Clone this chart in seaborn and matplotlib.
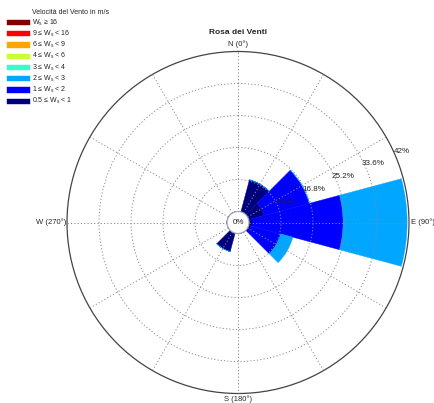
import numpy as np
import matplotlib
matplotlib.use("Agg")
import matplotlib.pyplot as plt
from matplotlib.patches import Rectangle
import seaborn as sns

# Wind directions (degrees from North, clockwise) and frequency (%) per speed class
directions = [0, 30, 60, 90, 120, 150, 180, 210, 240, 270, 300, 330]
freq_05_1 = [0, 8.7, 4.2, 0.8, 0.6, 0, 0, 5.0, 0, 0, 0, 0]
freq_1_2 = [0, 0, 12.3, 23.9, 8.1, 0, 0, 0, 0, 0, 0, 0]
freq_2_3 = [0, 0, 0, 16.8, 3.3, 0, 0, 0, 0, 0, 0, 0]

# Speed classes shown in the legend (top to bottom)
class_labels = [
    "W$_{\\mathregular{s}}$ \u2265 16",
    "9 \u2264 W$_{\\mathregular{s}}$ < 16",
    "6 \u2264 W$_{\\mathregular{s}}$ < 9",
    "4 \u2264 W$_{\\mathregular{s}}$ < 6",
    "3 \u2264 W$_{\\mathregular{s}}$ < 4",
    "2 \u2264 W$_{\\mathregular{s}}$ < 3",
    "1 \u2264 W$_{\\mathregular{s}}$ < 2",
    "0.5 \u2264 W$_{\\mathregular{s}}$ < 1",
]
class_hex = ["#800000", "#ff0000", "#ffa500", "#ccff33",
             "#33ffcc", "#00a6ff", "#0000ff", "#00007f"]

ring_values = [8.4, 16.8, 25.2, 33.6, 42]
ring_labels = ["8.4%", "16.8%", "25.2%", "33.6%", "42%"]
compass_labels = ["N (0\u00b0)", "E (90\u00b0)", "S (180\u00b0)", "W (270\u00b0)"]

sns.set_theme(style="white")
plt.rcParams["font.family"] = "sans-serif"
plt.rcParams["font.sans-serif"] = ["Liberation Sans", "DejaVu Sans"]
plt.rcParams["mathtext.fontset"] = "custom"
plt.rcParams["mathtext.rm"] = "Liberation Sans"
plt.rcParams["mathtext.it"] = "Liberation Sans"

palette = sns.color_palette(class_hex)
stack_colors = [palette[7], palette[6], palette[5]]  # 0.5-1, 1-2, 2-3

W, H = 434, 403
fig = plt.figure(figsize=(W / 100, H / 100), dpi=100)
fig.patch.set_facecolor("white")

cx, cy, R = 238, 222.5, 171
ax = fig.add_axes([(cx - R) / W, (H - cy - R) / H, 2 * R / W, 2 * R / H],
                  projection="polar")
ax.set_theta_zero_location("N")
ax.set_theta_direction(-1)
rmax = ring_values[-1]
hole = 11
ax.set_rorigin(-rmax * hole / (R - hole))
ax.set_rlim(0, rmax)

theta = np.deg2rad(directions)
width = np.deg2rad(30)
bottom = np.zeros(len(directions))
for vals, col in zip([freq_05_1, freq_1_2, freq_2_3], stack_colors):
    vals = np.asarray(vals, dtype=float)
    ax.bar(theta, vals, width=width, bottom=bottom, color=col,
           edgecolor=col, linewidth=0.3, align="center", zorder=1)
    bottom += vals

# grid
ax.set_axisbelow(False)
ax.set_rticks(ring_values[:-1])
ax.set_thetagrids(np.arange(0, 360, 30))
ax.set_xticklabels([])
ax.set_yticklabels([])
ax.grid(True, color="#8a8a8a", linestyle=(0, (1.2, 2.2)), linewidth=0.7)
ax.spines["polar"].set_color("#444444")
ax.spines["polar"].set_linewidth(0.9)
if "inner" in ax.spines:
    ax.spines["inner"].set_color("#a8a8c8")
    ax.spines["inner"].set_linewidth(0.9)
ax.set_facecolor("white")

# ring labels
lab_theta = np.deg2rad(66.5)
for rv, lab in zip(ring_values, ring_labels):
    ax.text(lab_theta, rv + 2.1, lab, ha="center", va="center",
            fontsize=5.8, color="#222222", zorder=5)
ax.text(0, ax.get_rorigin(), "0%", ha="center", va="center",
        fontsize=5.8, color="#222222", zorder=5)

# compass labels
ax.text(0, rmax + 1.9, compass_labels[0], ha="center", va="center", fontsize=5.5)
ax.text(np.pi / 2, rmax + 0.5, compass_labels[1], ha="left", va="center", fontsize=5.5)
ax.text(np.pi, rmax + 1.5, compass_labels[2], ha="center", va="center", fontsize=5.5)
ax.text(3 * np.pi / 2, rmax + 0.3, compass_labels[3], ha="right", va="center", fontsize=5.5)

fig.text(cx / W, 1 - 33 / H, "Rosa dei Venti", ha="center", va="center",
         fontsize=6, fontweight="bold")

# legend
fig.text(32 / W, 1 - 13 / H, "Velocit\u00e0 del Vento in m/s", ha="left",
         va="center", fontsize=5, color="#222222")
for i, (lab, col) in enumerate(zip(class_labels, palette)):
    yc = 22.5 + 11.25 * i
    fig.patches.append(Rectangle((7 / W, 1 - (yc + 2.6) / H), 23 / W, 5.2 / H,
                                 transform=fig.transFigure, facecolor=col,
                                 edgecolor=col, linewidth=0.3))
    fig.text(32 / W, 1 - yc / H, lab, ha="left", va="center", fontsize=5,
             color="#222222")

fig.savefig("out.png", dpi=100, facecolor="white")
